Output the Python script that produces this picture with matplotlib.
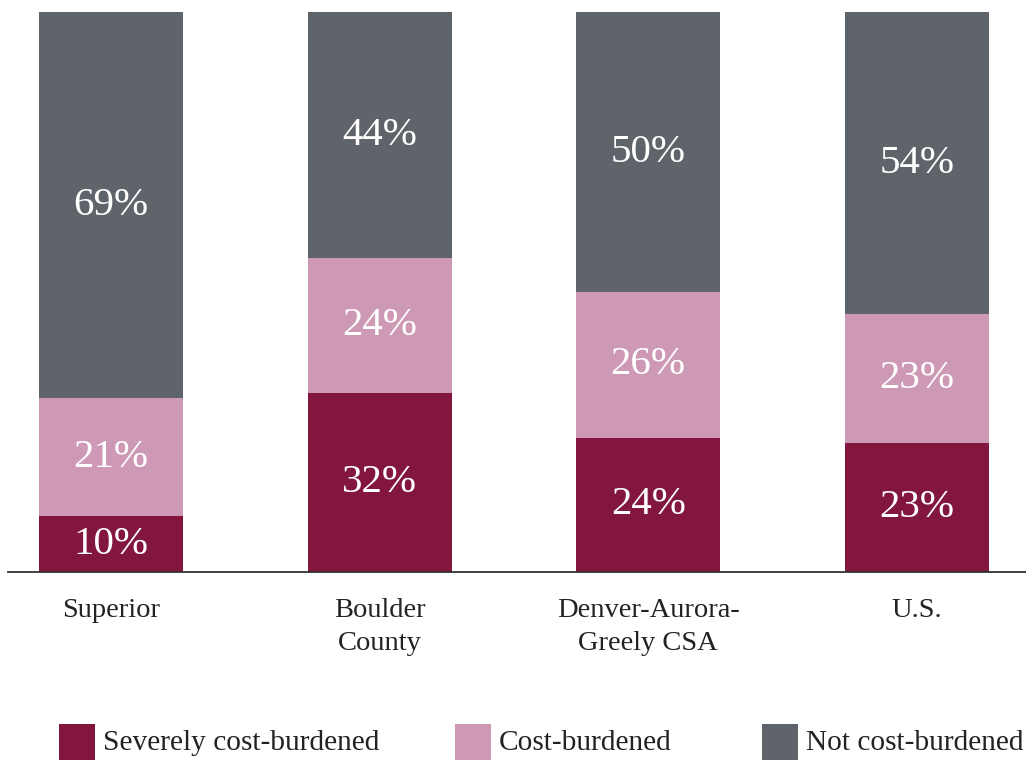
import matplotlib.pyplot as plt
from matplotlib.patches import Rectangle

plt.rcParams['font.family'] = ['Liberation Serif', 'DejaVu Serif']

# share of households by cost burden (%)
places = ['Superior', 'Boulder\nCounty', 'Denver-Aurora-\nGreely CSA', 'U.S.']
severe = [10, 32, 24, 23]
burdened = [21, 24, 26, 23]
not_burdened = [69, 44, 50, 54]

series = ['Severely cost-burdened', 'Cost-burdened', 'Not cost-burdened']
colors = ['#82163f', '#ce99b4', '#5f636a']

fig = plt.figure(figsize=(10.26, 7.62), dpi=100)
ax = fig.add_axes([8 / 1026, 190 / 762, 1 - 8 / 1026, 560 / 762])

x = list(range(len(places)))
bottom = [0] * len(places)
for vals, c in zip([severe, burdened, not_burdened], colors):
    bars = ax.bar(x, vals, width=0.536, bottom=bottom, color=c, linewidth=0)
    for b, v in zip(bars, vals):
        ax.text(b.get_x() + b.get_width() / 2, b.get_y() + v / 2, f'{v}%',
                ha='center', va='center', color='white', fontsize=29.5)
    bottom = [b + v for b, v in zip(bottom, vals)]

ax.set_xlim(-0.383, 3.406)
ax.set_ylim(0, 100)
for s in ['top', 'left', 'right']:
    ax.spines[s].set_visible(False)
ax.spines['bottom'].set_color('#333333')
ax.spines['bottom'].set_linewidth(1.3)
ax.set_yticks([])
ax.set_xticks(x)
ax.set_xticklabels(places, fontsize=20.5, color='#222222', linespacing=1.4)
ax.tick_params(axis='x', length=0, pad=19)

# legend boxes along the bottom
leg_x = [59, 455, 762]
for lx, name, c in zip(leg_x, series, colors):
    fig.add_artist(Rectangle((lx / 1026, 2 / 762), 36 / 1026, 36 / 762,
                             transform=fig.transFigure, color=c, linewidth=0))
    fig.text((lx + 44) / 1026, 19 / 762, name, fontsize=21.2, color='#222222',
             ha='left', va='center')

fig.savefig('out.png', dpi=100)
